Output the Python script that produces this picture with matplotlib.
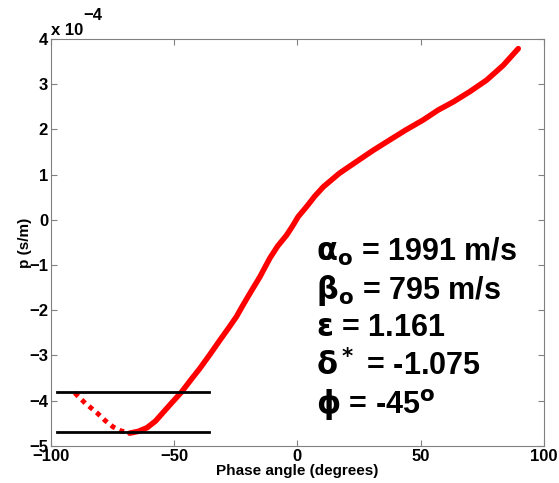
import numpy as np
import matplotlib.pyplot as plt
from matplotlib.ticker import FuncFormatter

plt.rcParams['font.family'] = ['Liberation Sans', 'DejaVu Sans']
plt.rcParams['font.weight'] = 'bold'

# dotted (non-physical) branch, phase angle in degrees, p in 1e-4 s/m
dot_angle = [-90.3, -86, -81.3, -78, -74.8, -71.5, -68]
dot_p = [-3.83, -4.06, -4.27, -4.44, -4.58, -4.67, -4.72]

# solid branch
sol_angle = [-68, -64.5, -61, -57.5, -54.6, -51, -47, -43.5, -39.6, -35.5, -31.4, -28,
             -24.7, -22, -19.3, -15.2, -11.2, -8, -4.4, -2, 0.3, 3.7, 7, 10.5,
             17, 24, 30.5, 37.5, 44, 51, 57.1, 63.2, 70, 76.7, 83.5, 89.6]
sol_p = [-4.72, -4.68, -4.6, -4.45, -4.27, -4.05, -3.81, -3.56, -3.29, -2.98, -2.66, -2.40,
         -2.14, -1.88, -1.63, -1.26, -0.85, -0.58, -0.34, -0.14, 0.07, 0.29, 0.52, 0.73,
         1.03, 1.29, 1.53, 1.77, 1.99, 2.21, 2.43, 2.61, 2.84, 3.09, 3.42, 3.79]

# horizontal bounds
bound_x = [-97.6, -36]
bound_p = [-3.81, -4.69]

scale = 1e-4

fig = plt.figure(figsize=(5.59, 4.83), dpi=100)
ax = fig.add_axes([0.091, 0.077, 0.882, 0.842])

ax.plot(sol_angle, np.array(sol_p) * scale, color='red', lw=4,
        solid_capstyle='round', solid_joinstyle='round')
ax.plot(dot_angle, np.array(dot_p) * scale, color='red', lw=3.5, ls=(0, (1, 1)))
for b in bound_p:
    ax.plot(bound_x, [b * scale, b * scale], color='black', lw=2)

ax.set_xlim(-100, 100)
ax.set_ylim(-5 * scale, 4 * scale)
ax.set_xticks([-100, -50, 0, 50, 100])
ax.set_yticks(np.arange(-5, 5) * scale)
ax.yaxis.set_major_formatter(FuncFormatter(lambda v, pos: f"{v / scale:.0f}".replace('-', '\u2212')))
ax.xaxis.set_major_formatter(FuncFormatter(lambda v, pos: f"{v:.0f}".replace('-', '\u2212')))

for s in ax.spines.values():
    s.set_color('#808080')
ax.tick_params(direction='in', top=True, right=True, color='#808080', labelsize=12, length=4, pad=2)
for lab in ax.get_xticklabels() + ax.get_yticklabels():
    lab.set_fontweight('bold')

ax.set_xlabel('Phase angle (degrees)', fontsize=11, fontweight='bold', labelpad=0)
ax.set_ylabel('p (s/m)', fontsize=11, fontweight='bold', labelpad=-2)

ax.text(0.0, 1.003, 'x 10', transform=ax.transAxes, fontsize=12, fontweight='bold',
        ha='left', va='bottom')
ax.text(0.066, 1.04, '\u22124', transform=ax.transAxes, fontsize=12, fontweight='bold',
        ha='left', va='bottom')

lines = [
    r'$\mathbf{\alpha_o}$ = 1991 m/s',
    r'$\mathbf{\beta_o}$ = 795 m/s',
    r'$\mathbf{\varepsilon}$ = 1.161',
    r'$\mathbf{\delta^*}$ = -1.075',
    r'$\mathbf{\phi}$ = -45$^\mathbf{o}$',
]
y0 = 252
for i, t in enumerate(lines):
    fig.text(316 / 559, 1 - (y0 + i * 38) / 483, t, fontsize=22, fontweight='bold',
             ha='left', va='center')

fig.savefig('out.png', dpi=100)
